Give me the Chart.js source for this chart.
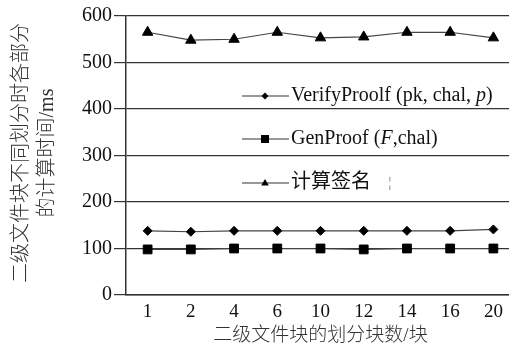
<!DOCTYPE html>
<html lang="zh">
<head>
    <meta charset="UTF-8">
    <title>二级文件块划分计算时间</title>
    <script src="https://cdn.jsdelivr.net/npm/chart.js"></script>
    <style>
        html, body { margin: 0; padding: 0; background: #fff; overflow: hidden; }
        #wrap { width: 525px; height: 347px; }
    </style>
</head>
<body>
    <div id="wrap"><canvas id="timeChart" width="525" height="347"></canvas></div>

    <script>
        // x categories: number of sub-blocks
        const blockCounts = ['1', '2', '4', '6', '10', '12', '14', '16', '20'];

        // times in ms
        const verifyTimes = [138, 136, 138, 138, 138, 138, 138, 138, 141];
        const genProofTimes = [98, 98, 100, 100, 100, 98, 100, 100, 100];
        const signTimes = [565, 548, 550, 565, 553, 555, 565, 565, 553];

        const yTicks = [0, 100, 200, 300, 400, 500, 600];

        const serif = "'Liberation Serif', 'Times New Roman', 'Noto Sans CJK SC', serif";
        const cjk = "'Liberation Serif', 'Noto Sans CJK SC', sans-serif";

        // legend text pieces (italic bits marked)
        const legendParts = [
            [{ t: 'VerifyProolf (pk, chal, ' }, { t: 'p', i: true }, { t: ')' }],
            [{ t: 'GenProof (' }, { t: 'F', i: true }, { t: ',chal)' }],
            [{ t: '计算签名' }, { t: '     ¦', small: true }]
        ];

        function drawMarker(ctx, style, x, y, r) {
            ctx.beginPath();
            if (style === 'rectRot') {
                ctx.moveTo(x, y - r); ctx.lineTo(x + r, y); ctx.lineTo(x, y + r); ctx.lineTo(x - r, y);
            } else if (style === 'rect') {
                ctx.rect(x - r, y - r, 2 * r, 2 * r);
            } else {
                ctx.moveTo(x, y - r); ctx.lineTo(x + r * 0.95, y + r * 0.6); ctx.lineTo(x - r * 0.95, y + r * 0.6);
            }
            ctx.closePath();
            ctx.fill();
        }

        const overlay = {
            id: 'overlay',
            afterDraw(chart) {
                const ctx = chart.ctx;
                ctx.save();

                // y axis title, two rotated lines
                ctx.fillStyle = '#333';
                ctx.font = "300 20px " + cjk;
                ctx.textAlign = 'center';
                ctx.textBaseline = 'middle';
                ctx.translate(22, 153);
                ctx.rotate(-Math.PI / 2);
                ctx.fillText('二级文件块不同划分时各部分', 0, 0);
                ctx.setTransform(1, 0, 0, 1, 0, 0);
                ctx.translate(48, 153);
                ctx.rotate(-Math.PI / 2);
                ctx.fillText('的计算时间/ms', 0, 0);
                ctx.setTransform(1, 0, 0, 1, 0, 0);

                // legend inside the plot
                const rows = [96, 139, 183];
                const sizes = [3.5, 4, 4];
                chart.data.datasets.forEach((ds, i) => {
                    const y = rows[i];
                    ctx.strokeStyle = '#333';
                    ctx.lineWidth = 1.2;
                    ctx.beginPath();
                    ctx.moveTo(242, y);
                    ctx.lineTo(289, y);
                    ctx.stroke();
                    ctx.fillStyle = '#000';
                    drawMarker(ctx, ds.pointStyle, 265, y, sizes[i]);

                    let x = 291;
                    ctx.textAlign = 'left';
                    ctx.textBaseline = 'middle';
                    legendParts[i].forEach(p => {
                        if (p.small) {
                            ctx.font = "14px " + serif;
                            ctx.fillStyle = '#666';
                        } else {
                            ctx.font = (p.i ? 'italic ' : '') + "20px " + serif;
                            ctx.fillStyle = '#111';
                        }
                        ctx.fillText(p.t, x, y);
                        x += ctx.measureText(p.t).width;
                    });
                });
                ctx.restore();
            }
        };

        const lineColor = '#444';

        new Chart(document.getElementById('timeChart'), {
            type: 'line',
            data: {
                labels: blockCounts,
                datasets: [
                    {
                        label: 'VerifyProolf (pk, chal, p)',
                        data: verifyTimes,
                        borderColor: lineColor,
                        borderWidth: 1.2,
                        pointStyle: 'rectRot',
                        pointRadius: 4.5,
                        pointBackgroundColor: '#000',
                        pointBorderColor: '#000',
                        pointBorderWidth: 1
                    },
                    {
                        label: 'GenProof (F,chal)',
                        data: genProofTimes,
                        borderColor: lineColor,
                        borderWidth: 1.2,
                        pointStyle: 'rect',
                        pointRadius: 6.2,
                        pointBackgroundColor: '#000',
                        pointBorderColor: '#000',
                        pointBorderWidth: 1
                    },
                    {
                        label: '计算签名',
                        data: signTimes,
                        borderColor: lineColor,
                        borderWidth: 1.2,
                        pointStyle: 'triangle',
                        pointRadius: 6,
                        pointBackgroundColor: '#000',
                        pointBorderColor: '#000',
                        pointBorderWidth: 1
                    }
                ]
            },
            options: {
                responsive: false,
                animation: false,
                layout: { padding: { left: 0, right: 10, top: 16, bottom: 0 } },
                plugins: {
                    legend: { display: false },
                    tooltip: { enabled: false }
                },
                scales: {
                    x: {
                        offset: true,
                        grid: { display: false, drawTicks: false },
                        border: { display: true, color: '#333', width: 1.5 },
                        ticks: { color: '#111', padding: 6, font: { family: serif, size: 19 } },
                        title: {
                            display: true,
                            text: '二级文件块的划分块数/块',
                            color: '#333',
                            font: { family: cjk, size: 19, weight: '300' },
                            padding: { top: 0, bottom: 0 }
                        },
                        afterFit(scale) { scale.height = 52; }
                    },
                    y: {
                        min: 0,
                        max: 600,
                        afterBuildTicks(scale) { scale.ticks = yTicks.map(v => ({ value: v })); },
                        grid: { color: '#333', lineWidth: 1.2, drawTicks: true, tickLength: 12 },
                        border: { display: true, color: '#333', width: 1.5 },
                        ticks: { color: '#111', padding: 2, font: { family: serif, size: 20 } },
                        afterFit(scale) { scale.width = 126; }
                    }
                }
            },
            plugins: [overlay]
        });
    </script>
</body>
</html>
